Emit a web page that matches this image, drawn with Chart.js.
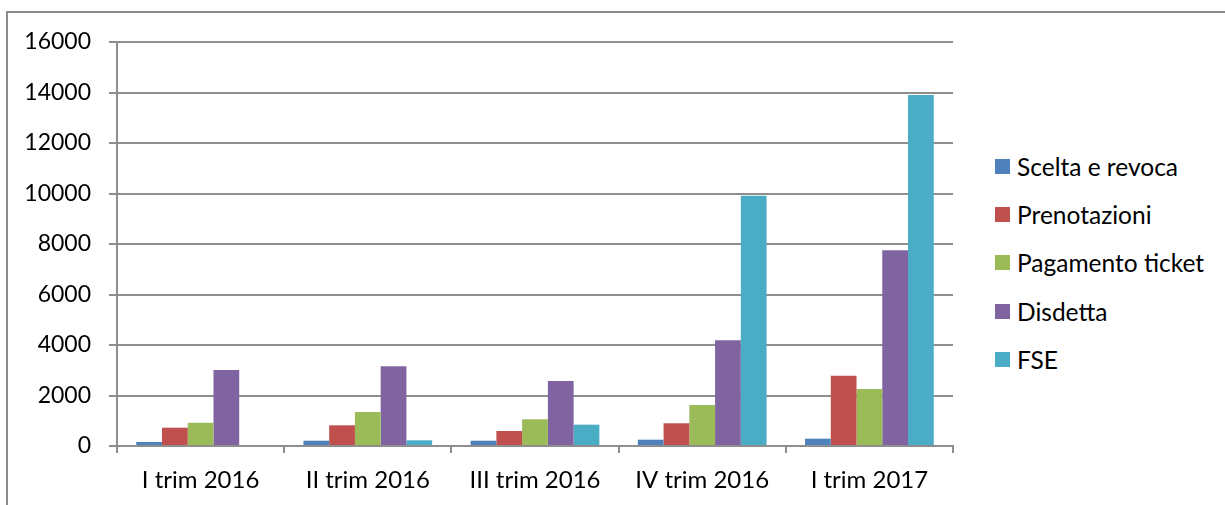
<!DOCTYPE html>
<html lang="it">
<head>
  <meta charset="UTF-8">
  <title>Servizi online per trimestre</title>
  <script src="https://cdn.jsdelivr.net/npm/chart.js"></script>
  <style>
    body {
      margin: 0;
      width: 1225px;
      height: 505px;
      overflow: hidden;
      background: #fff;
      font-family: Lato, 'Open Sans', sans-serif;
      position: relative;
    }
    #frame {
      position: absolute;
      left: 6px;
      top: 11px;
      width: 1240px;
      height: 520px;
      border: 2px solid #8c8c8c;
    }
    #wrap {
      position: absolute;
      left: 0;
      top: 0;
      width: 975px;
      height: 505px;
    }
    #legend {
      position: absolute;
      left: 995px;
      top: 142px;
    }
    .item {
      display: flex;
      align-items: center;
      height: 48.3px;
      font-size: 24.5px;
      color: #000;
    }
    .box {
      width: 15px;
      height: 15px;
      margin-right: 7px;
    }
  </style>
</head>
<body>
  <div id="frame"></div>
  <div id="wrap"><canvas id="chart"></canvas></div>
  <div id="legend"></div>

  <script>
    const categories = ['I trim 2016', 'II trim 2016', 'III trim 2016', 'IV trim 2016', 'I trim 2017'];
    const seriesNames = ['Scelta e revoca', 'Prenotazioni', 'Pagamento ticket', 'Disdetta', 'FSE'];
    const sceltaRevoca = [160, 210, 210, 250, 290];
    const prenotazioni = [725, 820, 595, 900, 2785];
    const pagamentoTicket = [920, 1345, 1057, 1625, 2257];
    const disdetta = [3010, 3155, 2575, 4185, 7750];
    const fse = [0, 225, 845, 9915, 13900];
    const yTicks = [0, 2000, 4000, 6000, 8000, 10000, 12000, 14000, 16000];
    const colors = ['#4f81bd', '#c0504d', '#9bbb59', '#8064a2', '#4bacc6'];

    const values = [sceltaRevoca, prenotazioni, pagamentoTicket, disdetta, fse];
    const gray = '#8e8e8e';

    const chart = new Chart(document.getElementById('chart'), {
      type: 'bar',
      data: {
        labels: categories,
        datasets: seriesNames.map((name, i) => ({
          label: name,
          data: values[i],
          backgroundColor: colors[i],
          categoryPercentage: 0.77,
          barPercentage: 1
        }))
      },
      options: {
        responsive: true,
        maintainAspectRatio: false,
        animation: false,
        layout: { padding: { top: 42, right: 22, bottom: 0, left: 0 } },
        plugins: {
          legend: { display: false },
          tooltip: { enabled: false }
        },
        scales: {
          x: {
            grid: { drawOnChartArea: false, offset: true, tickLength: 7, color: gray, lineWidth: 2 },
            border: { color: gray, width: 2 },
            ticks: { font: { family: 'Lato', size: 24 }, color: '#000', padding: 13, maxRotation: 0 },
            afterFit: s => { s.height = 59; }
          },
          y: {
            min: 0,
            max: 16000,
            afterBuildTicks: s => { s.ticks = yTicks.map(v => ({ value: v })); },
            grid: { color: gray, lineWidth: 2, tickLength: 8 },
            border: { color: gray, width: 2 },
            ticks: { font: { family: 'Lato', size: 23 }, color: '#000', padding: 18, callback: v => String(v) },
            afterFit: s => { s.width = 117; }
          }
        }
      }
    });

    const legend = document.getElementById('legend');
    seriesNames.forEach((name, i) => {
      const row = document.createElement('div');
      row.className = 'item';
      row.innerHTML = '<span class="box" style="background:' + colors[i] + '"></span><span>' + name + '</span>';
      legend.appendChild(row);
    });
  </script>
</body>
</html>
